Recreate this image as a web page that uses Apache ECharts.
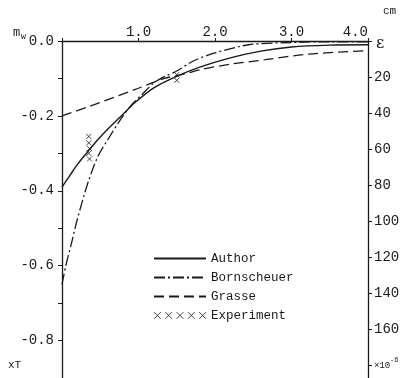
<!DOCTYPE html>
<html><head><meta charset="utf-8">
<script src="https://cdn.jsdelivr.net/npm/echarts@6/dist/echarts.min.js"></script>
<style>html,body{margin:0;padding:0;background:#fff}#c{width:408px;height:378px}</style>
</head><body><div id="c"></div>
<script>
// Data (x in cm, y = m_W)
const authorX = [0, 0.1, 0.2, 0.34, 0.47, 0.6, 0.8, 0.95, 1.2, 1.47, 1.8, 2.2, 2.6, 3.0, 3.5, 4.0];
const authorY = [-0.39, -0.36, -0.33, -0.295, -0.263, -0.235, -0.195, -0.165, -0.125, -0.097, -0.07, -0.045, -0.027, -0.016, -0.011, -0.01];
const bornX = [0, 0.05, 0.13, 0.2, 0.34, 0.47, 0.6, 0.78, 0.92, 1.05, 1.2, 1.34, 1.5, 1.73, 2.0, 2.44, 3.0, 3.5, 4.0];
const bornY = [-0.65, -0.6, -0.535, -0.476, -0.378, -0.308, -0.263, -0.205, -0.168, -0.142, -0.112, -0.095, -0.08, -0.052, -0.032, -0.01, -0.004, -0.002, -0.002];
const grasseX = [0, 0.34, 0.95, 1.34, 1.6, 1.82, 2.2, 2.66, 3.22, 4.0];
const grasseY = [-0.2, -0.176, -0.13, -0.1, -0.088, -0.076, -0.062, -0.05, -0.035, -0.026];
const expX = [0.35, 0.35, 0.36, 0.35, 0.36, 1.5, 1.5];
const expY = [-0.255, -0.272, -0.287, -0.3, -0.315, -0.09, -0.105];
const xTicks = [1.0, 2.0, 3.0, 4.0];
const leftTicks = [0.0, -0.2, -0.4, -0.6, -0.8];
const rightTicks = [20, 40, 60, 80, 100, 120, 140, 160];

const zip = (a, b) => a.map((v, i) => [v, b[i]]);
const FONT = 'Liberation Mono';
const INK = '#1a1a1a';
const cross = 'path://M0,0L10,10M10,0L0,10';
const fiveCross = 'path://M0,0L6,6M6,0L0,6M10,0L16,6M16,0L10,6M20,0L26,6M26,0L20,6M30,0L36,6M36,0L30,6M40,0L46,6M46,0L40,6';
const noSym = {color: 'transparent', borderColor: 'transparent', borderWidth: 0};

const chart = echarts.init(document.getElementById('c'), null, {renderer: 'canvas'});
chart.setOption({
  animation: false,
  backgroundColor: '#fff',
  grid: {left: 62, right: 40, top: 41, bottom: 0},
  xAxis: {
    type: 'value', position: 'top', min: 0, max: 4, interval: 1,
    axisLine: {show: true, lineStyle: {color: INK, width: 1.3}},
    axisTick: {show: true, length: 3, inside: false, lineStyle: {color: INK}},
    splitLine: {show: false},
    axisLabel: {
      fontFamily: FONT, fontSize: 14, color: INK, margin: 2, alignMaxLabel: 'right',
      formatter: v => xTicks.some(t => Math.abs(t - v) < 1e-6) ? v.toFixed(1) : ''
    }
  },
  yAxis: [{
    type: 'value', position: 'left', min: -0.9, max: 0, interval: 0.1,
    axisLine: {show: true, lineStyle: {color: INK, width: 1.3}},
    axisTick: {show: true, length: 4, lineStyle: {color: INK}},
    splitLine: {show: false},
    axisLabel: {
      fontFamily: FONT, fontSize: 14, color: INK, margin: 8, showMinLabel: false,
      formatter: v => leftTicks.some(t => Math.abs(t - v) < 1e-6) ? v.toFixed(1) : ''
    }
  }, {
    type: 'value', position: 'right', inverse: true, min: 0, max: 187, interval: 20,
    axisLine: {show: true, lineStyle: {color: INK, width: 1.3}},
    axisTick: {show: true, length: 4, lineStyle: {color: INK}},
    splitLine: {show: false},
    axisLabel: {
      fontFamily: FONT, fontSize: 14, color: INK, margin: 6, showMaxLabel: false,
      formatter: v => rightTicks.indexOf(Math.round(v)) >= 0 ? String(Math.round(v)) : ''
    }
  }],
  legend: {
    orient: 'vertical', left: 148, top: 247, itemWidth: 52, itemHeight: 10, itemGap: 6,
    textStyle: {fontFamily: FONT, fontSize: 12.5, color: INK},
    data: [
      {name: 'Author', itemStyle: noSym},
      {name: 'Bornscheuer', itemStyle: noSym},
      {name: 'Grasse', itemStyle: noSym},
      {name: 'Experiment', icon: fiveCross, itemStyle: {color: 'transparent', borderColor: INK, borderWidth: 1}}
    ]
  },
  series: [
    {name: 'Author', type: 'line', smooth: 0.3, showSymbol: false, symbol: 'none',
     data: zip(authorX, authorY), lineStyle: {color: INK, width: 1.4}, itemStyle: {color: INK}},
    {name: 'Bornscheuer', type: 'line', smooth: 0.3, showSymbol: false, symbol: 'none',
     data: zip(bornX, bornY), lineStyle: {color: INK, width: 1.3, type: [11, 3, 2, 3]}, itemStyle: {color: INK}},
    {name: 'Grasse', type: 'line', smooth: 0.3, showSymbol: false, symbol: 'none',
     data: zip(grasseX, grasseY), lineStyle: {color: INK, width: 1.3, type: [10, 5]}, itemStyle: {color: INK}},
    {name: 'Experiment', type: 'scatter', symbol: cross, symbolSize: 5,
     data: zip(expX, expY), itemStyle: {color: 'transparent', borderColor: INK, borderWidth: 1}}
  ],
  graphic: [
    {type: 'text', left: 13, top: 27, style: {text: 'm', font: '12px ' + FONT, fill: INK}},
    {type: 'text', left: 21, top: 33, style: {text: 'W', font: '8px ' + FONT, fill: INK}},
    {type: 'text', left: 383, top: 6, style: {text: 'cm', font: '11px ' + FONT, fill: INK}},
    {type: 'text', left: 376, top: 36, style: {text: 'ε', font: '16px DejaVu Serif', fill: INK}},
    {type: 'text', left: 8, top: 360, style: {text: 'xT', font: '11px ' + FONT, fill: INK}},
    {type: 'text', left: 374, top: 361, style: {text: '×10', font: '9px ' + FONT, fill: INK}},
    {type: 'text', left: 390, top: 357, style: {text: '-6', font: '7px ' + FONT, fill: INK}}
  ]
});
</script></body></html>
